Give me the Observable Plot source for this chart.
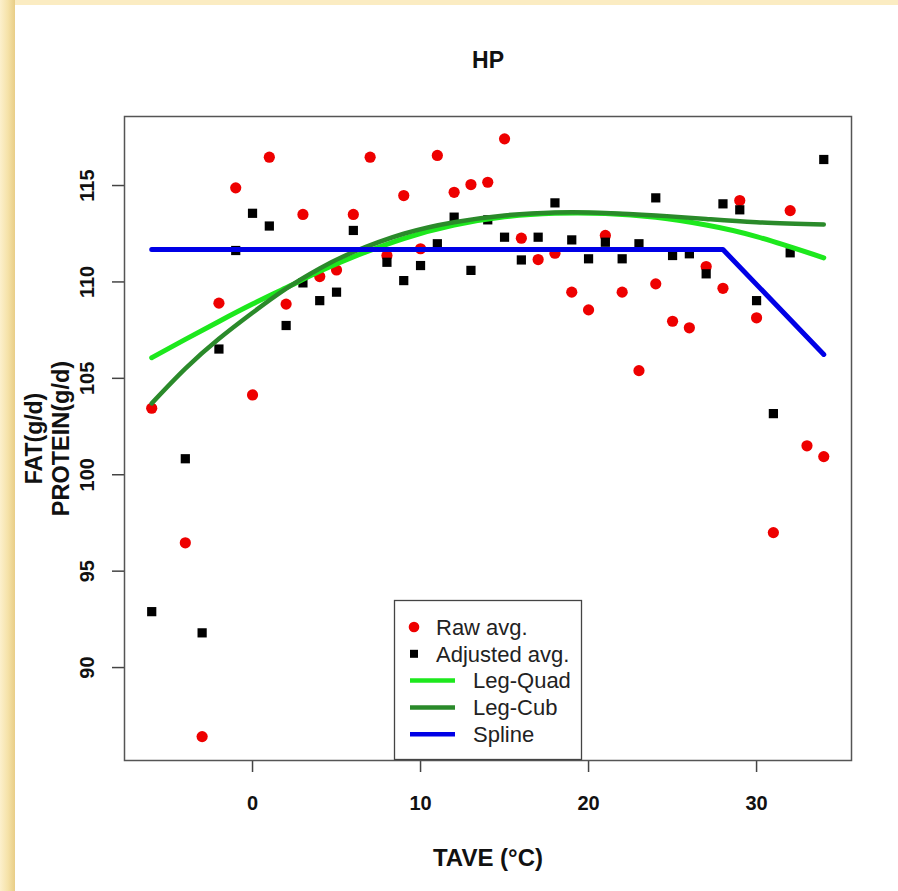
<!DOCTYPE html>
<html>
<head>
<meta charset="utf-8">
<script src="https://cdn.jsdelivr.net/npm/d3@7"></script>
<script src="https://cdn.jsdelivr.net/npm/@observablehq/plot@0.6"></script>
<style>
  html, body { margin: 0; padding: 0; }
  #page { position: relative; width: 898px; height: 891px; overflow: hidden; background: #fbecc2; font-family: "Liberation Sans", Arial, Helvetica, sans-serif; }
  #leftstrip { position: absolute; left: 0; top: 0; width: 15px; height: 891px; background: linear-gradient(to right, #fcf0cc 0px, #f5e2a8 8px, #e8cd86 15px); }
  #panel { position: absolute; left: 15px; top: 5px; right: 0; bottom: 0; background: #ffffff; }
  #chart { position: absolute; left: 0; top: 0; }
  #legend { position: absolute; left: 394px; top: 600px; }
</style>
</head>
<body>
<div id="page">
  <div id="leftstrip"></div>
  <div id="panel"></div>
  <div id="chart"></div>
  <div id="legend"></div>
</div>
<script>
// ---- data ----
const rawTemp = [-6,-4,-3,-2,-1,0,1,2,3,4,5,6,7,8,9,10,11,12,13,14,15,16,17,18,19,20,21,22,23,24,25,26,27,28,29,30,31,32,33,34];
const rawAvg  = [103.45,96.47,86.42,108.9,114.88,104.14,116.47,108.85,113.5,110.28,110.62,113.5,116.47,111.37,114.48,111.72,116.56,114.65,115.05,115.17,117.42,112.27,111.16,111.49,109.47,108.55,112.41,109.47,105.4,109.9,107.96,107.62,110.8,109.67,114.22,108.14,97.0,113.7,101.5,100.94];

const adjTemp = [-6,-4,-3,-2,-1,0,1,2,3,4,5,6,8,9,10,11,12,13,14,15,16,17,18,19,20,21,22,23,24,25,26,27,28,29,30,31,32,34];
const adjAvg  = [92.9,100.83,91.8,106.52,111.63,113.56,112.9,107.74,109.95,109.03,109.47,112.67,111.02,110.07,110.85,111.98,113.36,110.6,113.22,112.32,111.14,112.32,114.1,112.18,111.2,112.06,111.2,111.98,114.36,111.37,111.46,110.42,114.05,113.74,109.03,103.17,111.51,116.35];

const curveTemp = [-6,-4,-2,0,2,4,6,9,12,15,18,21,24,27,30,34];
const legQuad   = [106.07,107.02,107.95,108.85,109.7,110.55,111.3,112.25,112.95,113.38,113.56,113.55,113.35,112.95,112.35,111.25];
const legCub    = [103.7,105.5,107.05,108.4,109.65,110.7,111.55,112.5,113.1,113.45,113.6,113.58,113.45,113.27,113.1,112.98];

const splineTemp = [-6,28,34];
const splineVal  = [111.68,111.68,106.24];

const xTicks = [0,10,20,30];
const yTicks = [90,95,100,105,110,115];

const seriesNames = ["Raw avg.","Adjusted avg.","Leg-Quad","Leg-Cub","Spline"];
const colors = {raw:"#ee0000", adj:"#000000", quad:"#1de81d", cub:"#2a8a2a", spline:"#0000e6"};

// ---- tables ----
const raw = rawTemp.map((t,i)=>({t, v: rawAvg[i]}));
const adj = adjTemp.map((t,i)=>({t, v: adjAvg[i]}));
const quad = curveTemp.map((t,i)=>({t, v: legQuad[i]}));
const cub = curveTemp.map((t,i)=>({t, v: legCub[i]}));
const spl = splineTemp.map((t,i)=>({t, v: splineVal[i]}));

const font = '"Liberation Sans", Arial, Helvetica, sans-serif';

const chart = Plot.plot({
  width: 898,
  height: 891,
  marginLeft: 124,
  marginRight: 47,
  marginTop: 116,
  marginBottom: 131,
  style: {background: "transparent", fontFamily: font, overflow: "visible"},
  x: {domain: [-7.62, 35.65]},
  y: {domain: [85.18, 118.58]},
  marks: [
    Plot.axisX({ticks: xTicks, tickSize: 12, tickFormat: () => "", label: null, stroke: "#444", strokeWidth: 1.5}),
    Plot.axisY({ticks: yTicks, tickSize: 12, tickFormat: () => "", label: null, stroke: "#444", strokeWidth: 1.5}),
    Plot.text(xTicks, {x: d => d, text: d => String(d), frameAnchor: "bottom", dy: 43, lineAnchor: "middle", fontSize: 20, fontWeight: "bold", fill: "#111"}),
    Plot.text(yTicks, {y: d => d, text: d => String(d), frameAnchor: "left", dx: -37, rotate: -90, textAnchor: "middle", lineAnchor: "middle", fontSize: 20, fontWeight: "bold", fill: "#111"}),
    Plot.text(["HP"], {frameAnchor: "top", dy: -56, lineAnchor: "middle", fontSize: 23, fontWeight: "bold", fill: "#111"}),
    Plot.text(["TAVE (°C)"], {frameAnchor: "bottom", dy: 98, lineAnchor: "middle", fontSize: 24, fontWeight: "bold", fill: "#111"}),
    Plot.text(["FAT(g/d)"], {frameAnchor: "left", dx: -90, rotate: -90, textAnchor: "middle", lineAnchor: "middle", fontSize: 23, fontWeight: "bold", fill: "#111"}),
    Plot.text(["PROTEIN(g/d)"], {frameAnchor: "left", dx: -63, rotate: -90, textAnchor: "middle", lineAnchor: "middle", fontSize: 23.5, fontWeight: "bold", fill: "#111"}),
    Plot.dot(raw, {x: "t", y: "v", r: 5.6, fill: colors.raw, stroke: null}),
    Plot.dot(adj, {x: "t", y: "v", r: 5.2, symbol: "square", fill: colors.adj, stroke: null}),
    Plot.line(quad, {x: "t", y: "v", curve: "natural", stroke: colors.quad, strokeWidth: 5}),
    Plot.line(cub, {x: "t", y: "v", curve: "natural", stroke: colors.cub, strokeWidth: 4.5}),
    Plot.line(spl, {x: "t", y: "v", curve: "linear", stroke: colors.spline, strokeWidth: 5}),
    Plot.frame({stroke: "#555", strokeWidth: 1.5})
  ]
});
document.getElementById("chart").appendChild(chart);

// ---- legend ----
const lw = 188, lh = 160;
const lg = d3.select("#legend").append("svg").attr("width", lw).attr("height", lh)
  .style("font-family", font).style("overflow", "visible");
lg.append("rect").attr("x", 0.5).attr("y", 0.5).attr("width", lw - 1).attr("height", lh - 1)
  .attr("fill", "white").attr("stroke", "#444").attr("stroke-width", 1.3);
const rows = [
  {name: seriesNames[0], kind: "dot", color: colors.raw, tx: 42},
  {name: seriesNames[1], kind: "square", color: colors.adj, tx: 42},
  {name: seriesNames[2], kind: "line", color: colors.quad, tx: 79},
  {name: seriesNames[3], kind: "line", color: colors.cub, tx: 79},
  {name: seriesNames[4], kind: "line", color: colors.spline, tx: 79}
];
rows.forEach((r, i) => {
  const cy = 27 + i * 26.8;
  if (r.kind === "dot") lg.append("circle").attr("cx", 20).attr("cy", cy).attr("r", 5.3).attr("fill", r.color);
  else if (r.kind === "square") lg.append("rect").attr("x", 16).attr("y", cy - 4).attr("width", 8).attr("height", 8).attr("fill", r.color);
  else lg.append("line").attr("x1", 16).attr("x2", 61).attr("y1", cy).attr("y2", cy).attr("stroke", r.color).attr("stroke-width", 4.5);
  lg.append("text").attr("x", r.tx).attr("y", cy).attr("dy", "0.35em").attr("font-size", 22).attr("fill", "#222").text(r.name);
});
</script>
</body>
</html>
